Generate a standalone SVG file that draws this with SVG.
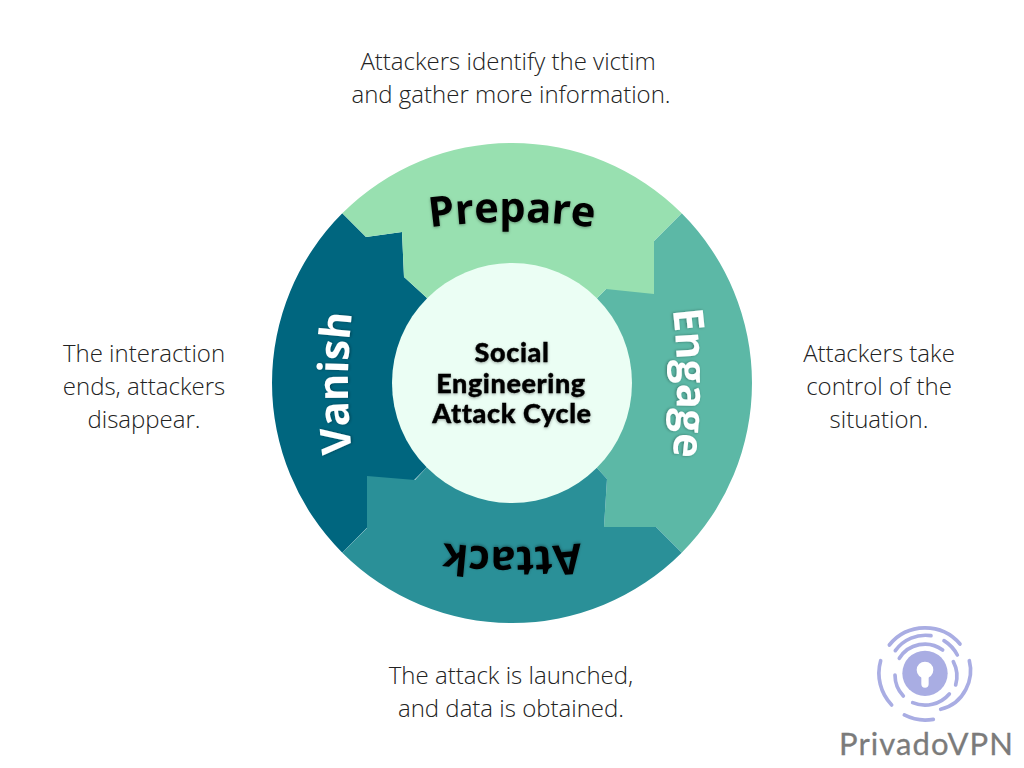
<svg xmlns="http://www.w3.org/2000/svg" xmlns:xlink="http://www.w3.org/1999/xlink" width="1024" height="768" viewBox="0 0 1024 768">
<style>
.body{font-family:"Open Sans","Liberation Sans",sans-serif;font-weight:300;font-size:24px;fill:#222;text-anchor:middle}
.seg{font-family:"Open Sans","Liberation Sans",sans-serif;font-weight:700;font-size:41.6px;text-anchor:middle}
.ctr{font-family:"Lato","Liberation Sans",sans-serif;font-weight:900;font-size:27px;letter-spacing:.6px;fill:#000;stroke:#000;stroke-width:.35px;text-anchor:middle}
.ring{fill:none;stroke:#a9ade3;stroke-width:11;stroke-linecap:round}
.logo{font-family:"Lato","Liberation Sans",sans-serif;font-size:31px;fill:#7b7b7b;stroke:#7b7b7b;stroke-width:.3px;letter-spacing:1.1px}
</style>
<defs>
<path id="arc" d="M392 234A600 600 0 0 1 632 234"/>
<filter id="sh" x="-20%" y="-20%" width="140%" height="140%"><feDropShadow dx="0" dy="1" stdDeviation="1.5" flood-color="#000" flood-opacity=".35"/></filter>
</defs>
<g id="vanish"><path d="M342.300 552.700A240 240 0 0 1 342.300 213.300L366 237L402 232L404 277L427 298L512 383L427 467Z" fill="#00667f"/>
<text class="seg" fill="#fff" filter="url(#sh)" transform="rotate(-90 512 383) translate(0 -3)"><textPath href="#arc" startOffset="50%">Vanish</textPath></text></g>
<g id="engage"><path d="M681.700 213.300A240 240 0 0 1 681.700 552.700L656 527L604 527L607 479L597 468L512 383L597 298L606 289Z" fill="#5cb8a6"/>
<text class="seg" fill="#fff" filter="url(#sh)" transform="rotate(90 512 383) translate(0 -4)"><textPath href="#arc" startOffset="50%">Engage</textPath></text></g>
<g id="attack"><path d="M681.700 552.700A240 240 0 0 1 342.300 552.700L367 528L367 476L415 480L427 467L512 383L597 468L607 479L604 527L656 527Z" fill="#2a9098"/>
<text class="seg" fill="#000" filter="url(#sh)" transform="rotate(180 512 383) translate(0 -3)"><textPath href="#arc" startOffset="50%">Attack</textPath></text></g>
<g id="prepare"><path d="M342.300 213.300A240 240 0 0 1 681.700 213.300L654 241L654 294L606 289L597 298L512 383L427 298L404 277L402 232L366 237Z" fill="#98e0b0"/>
<text class="seg" fill="#000" filter="url(#sh)"><textPath href="#arc" startOffset="50%">Prepare</textPath></text></g>
<g id="center"><circle cx="512" cy="383" r="120" fill="#ebfef4"/>
<g filter="url(#sh)"><text class="ctr" x="512" y="362">Social</text><text class="ctr" x="511" y="393">Engineering</text><text class="ctr" x="512" y="423">Attack Cycle</text></g></g>
<g id="caption-top"><text class="body" x="508" y="70">Attackers identify the victim</text><text class="body" x="511" y="103">and gather more information.</text></g>
<g id="caption-right"><text class="body" x="879" y="362">Attackers take</text><text class="body" x="879" y="395">control of the</text><text class="body" x="879" y="428">situation.</text></g>
<g id="caption-bottom"><text class="body" x="511" y="684">The attack is launched,</text><text class="body" x="511" y="717">and data is obtained.</text></g>
<g id="caption-left"><text class="body" x="144" y="362">The interaction</text><text class="body" x="144" y="395">ends, attackers</text><text class="body" x="144" y="428">disappear.</text></g>
<g id="logo">
<g transform="translate(870 620) scale(.3333)">
<path class="ring" d="M58 75A138 138 0 0 1 270 72"/>
<path class="ring" d="M298 122C312 175 285 250 212 268"/>
<path class="ring" d="M103 285A138 138 0 0 0 190 298"/>
<path class="ring" d="M32 122A138 138 0 0 0 65 255"/>
<path class="ring" d="M76 92A112 112 0 0 1 183 47"/>
<path class="ring" d="M222 62A113 113 0 0 1 262 105"/>
<path class="ring" d="M88 115A90 90 0 0 1 218 90"/>
<path class="ring" d="M250 125A95 95 0 0 1 257 195"/>
<path class="ring" d="M75 165A92 92 0 0 0 100 228"/>
<path class="ring" d="M128 248A96 96 0 0 0 238 222"/>
<circle cx="165" cy="160" r="68" fill="#a9ade3"/>
<circle cx="165" cy="150" r="25" fill="#fff"/>
<path d="M165 150V192" stroke="#fff" stroke-width="22" stroke-linecap="round"/>
</g>
<text class="logo" x="839" y="755">PrivadoVPN</text>
</g>
</svg>
